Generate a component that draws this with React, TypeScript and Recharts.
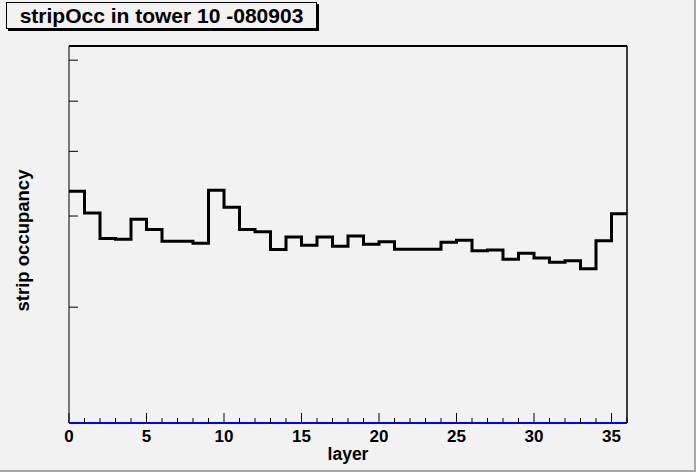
import { LineChart, Line, XAxis, YAxis, ReferenceLine, Label } from "recharts";

// strip occupancy per layer, one value per bin (36 bins, layer 0..36)
const OCCUPANCY = [
  3.35, 3.04, 2.715, 2.706, 2.958, 2.827, 2.683, 2.683, 2.659, 3.365,
  3.121, 2.827, 2.796, 2.586, 2.732, 2.633, 2.732, 2.624, 2.744, 2.646,
  2.675, 2.589, 2.589, 2.589, 2.671, 2.695, 2.57, 2.578, 2.476, 2.543,
  2.488, 2.443, 2.458, 2.372, 2.687, 3.029,
];

const X_TICKS = Array.from({ length: 37 }, (_, i) => i);
const X_LABELED = [0, 5, 10, 15, 20, 25, 30, 35];
const Y_TICKS = [2, 3, 4, 5, 6];
const Y_DOMAIN: [number, number] = [1.195, 6.39];
const X_MAX = 36;

const FONT = "'Liberation Sans', Arial, Helvetica, sans-serif";

// stepAfter needs a closing point at the right edge of the last bin
const chartData = [
  ...OCCUPANCY.map((v, i) => ({ layer: i, occ: v })),
  { layer: X_MAX, occ: OCCUPANCY[OCCUPANCY.length - 1] },
];

function XTick(props: any) {
  const { x, y, payload } = props;
  const major = X_LABELED.includes(payload.value);
  return (
    <g>
      <line x1={x} x2={x} y1={y} y2={y - (major ? 10 : 5)} stroke="#000" strokeWidth={1} />
      {major && (
        <text x={x} y={y + 19} textAnchor="middle" fontFamily={FONT} fontWeight="bold" fontSize={17} fill="#000">
          {payload.value}
        </text>
      )}
    </g>
  );
}

function YTick(props: any) {
  const { x, y } = props;
  return <line x1={x} x2={x + 9} y1={y} y2={y} stroke="#000" strokeWidth={1} />;
}

export default function App() {
  return (
    <div style={{ position: "relative", width: 696, height: 472, background: "#f2f2f2", overflow: "hidden" }}>
      <style>{`body{margin:0}`}</style>
      <LineChart
        width={696}
        height={472}
        data={chartData}
        margin={{ top: 46, right: 69, left: 59, bottom: 0 }}
      >
        <XAxis
          type="number"
          dataKey="layer"
          domain={[0, X_MAX]}
          ticks={X_TICKS}
          interval={0}
          tick={<XTick />}
          tickLine={false}
          tickSize={0}
          tickMargin={0}
          height={49}
          axisLine={{ stroke: "#0000ff", strokeWidth: 2 }}
        >
          <Label
            content={({ viewBox }: any) => (
              <text
                x={viewBox.x + viewBox.width / 2}
                y={viewBox.y + 37}
                textAnchor="middle"
                fontFamily={FONT}
                fontWeight="bold"
                fontSize={17.5}
                fill="#000"
              >
                layer
              </text>
            )}
          />
        </XAxis>
        <YAxis
          scale="log"
          domain={Y_DOMAIN}
          allowDataOverflow
          ticks={Y_TICKS}
          interval={0}
          tick={<YTick />}
          tickLine={false}
          tickSize={0}
          tickMargin={0}
          width={10}
          axisLine={{ stroke: "#000", strokeWidth: 1 }}
        >
          <Label
            content={({ viewBox }: any) => {
              const cx = 29;
              const cy = viewBox.y + viewBox.height / 2 + 6;
              return (
                <text
                  x={cx}
                  y={cy}
                  transform={`rotate(-90 ${cx} ${cy})`}
                  textAnchor="middle"
                  fontFamily={FONT}
                  fontWeight="bold"
                  fontSize={18.5}
                  fill="#000"
                >
                  strip occupancy
                </text>
              );
            }}
          />
        </YAxis>
        <ReferenceLine y={Y_DOMAIN[1]} stroke="#000" strokeWidth={2} ifOverflow="visible" />
        <ReferenceLine x={X_MAX} stroke="#000" strokeWidth={1.5} ifOverflow="visible" />
        <Line
          type="stepAfter"
          dataKey="occ"
          stroke="#000"
          strokeWidth={3}
          dot={false}
          activeDot={false}
          isAnimationActive={false}
        />
      </LineChart>
      <div
        style={{
          position: "absolute",
          left: 6,
          top: 2,
          width: 309,
          height: 25,
          border: "1px solid #000",
          boxShadow: "2px 2px 0 #000",
          fontFamily: FONT,
          fontWeight: "bold",
          fontSize: 21,
          lineHeight: "26px",
          textAlign: "center",
          color: "#000",
        }}
      >
        stripOcc in tower 10 -080903
      </div>
      <div style={{ position: "absolute", right: 0, top: 0, width: 2, height: 472, background: "#a8a8a8" }} />
      <div style={{ position: "absolute", left: 0, bottom: 0, width: 696, height: 2, background: "#a8a8a8" }} />
    </div>
  );
}
